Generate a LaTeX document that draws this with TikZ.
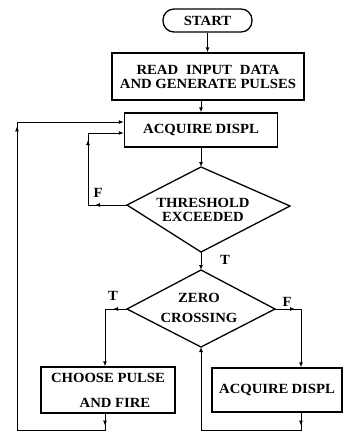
\documentclass[tikz,border=0pt]{standalone}
\usepackage{fontspec}
\setmainfont{Liberation Serif}[FakeStretch=1.05]
\usetikzlibrary{arrows.meta,decorations.markings}
\begin{document}
\begin{tikzpicture}[x=1pt,y=-1pt,
  txt/.style={font=\fontsize{14}{14}\selectfont\bfseries, align=center, inner sep=0pt},
  box/.style={draw, line width=1.3pt, txt},
  dia/.style={draw, line width=1.3pt, line join=miter},
  conn/.style={line width=1pt},
  arr/.style={conn, -{Latex[length=5pt,width=4pt]}},
  mid/.style={postaction={decorate, decoration={markings, mark=at position #1 with {\arrow{Latex[length=5pt,width=4pt]}}}}},
  lbl/.style={txt}]
\useasboundingbox (0,0) rectangle (344,432);

% nodes
\node[box, rounded corners=11pt, minimum width=89pt, minimum height=23pt] (start) at (207.5,20.5) {START};
\node[box, minimum width=192pt, minimum height=47pt] (read) at (208,76.5) {READ\hspace{8pt}INPUT\hspace{8pt}DATA\\AND GENERATE PULSES};
\node[box, minimum width=153pt, minimum height=34pt] (acq1) at (201,130) {ACQUIRE\hspace{3pt}DISPL};

% diamond 1
\coordinate (d1t) at (201,167);
\coordinate (d1r) at (290,206);
\coordinate (d1b) at (201,252);
\coordinate (d1l) at (127,205);
\draw[dia] (d1t) -- (d1r) -- (d1b) -- (d1l) -- cycle;
\node[txt] (d1) at (203,210) {THRESHOLD\\EXCEEDED};

% diamond 2
\coordinate (d2t) at (201,270);
\coordinate (d2r) at (275,309);
\coordinate (d2b) at (201,347);
\coordinate (d2l) at (127,309);
\draw[dia] (d2t) -- (d2r) -- (d2b) -- (d2l) -- cycle;
\node[txt, font=\fontsize{14}{20}\selectfont\bfseries] (d2) at (199,308) {ZERO\\CROSSING};

\node[box, font=\fontsize{14}{25}\selectfont\bfseries, minimum width=134pt, minimum height=46pt] (choose) at (108,390) {CHOOSE PULSE\\\hspace*{14pt}AND FIRE};
\node[box, minimum width=130pt, minimum height=44pt] (acq2) at (277,390) {ACQUIRE\hspace{3pt}DISPL};

% corner coordinates
\coordinate (fl) at (88,133);
\coordinate (ol) at (17,122);
\coordinate (tc) at (105,309);
\coordinate (fc) at (301,309);
\coordinate (bot) at (0,430);
\coordinate (ret) at (201,430);

% connectors
\draw[arr] (start.south) -- (start.south |- read.north);
\draw[arr] (acq1.north |- read.south) -- (acq1.north);
\draw[arr] (acq1.south) -- (d1t);
\draw[arr] (d1b) -- (d2t);
\draw[arr, mid=32pt, mid=104pt] (d1l) -- (d1l -| fl) -- (fl) -- (fl -| acq1.west);
\draw[arr, mid=14pt] (d2l) -- (tc) -- (tc |- choose.north);
\draw[arr, mid=20pt] (d2r) -- (fc) -- (fc |- acq2.north);
\draw[arr, mid=12pt, mid=408pt] (tc |- choose.south) -- (tc |- bot) -- (ol |- bot) -- (ol) -- (ol -| acq1.west);
\draw[arr, mid=13pt] (fc |- acq2.south) -- (fc |- bot) -- (ret) -- (d2b);

% labels
\node[lbl] (lf1) at (98,193) {F};
\node[lbl] (lt1) at (225,260) {T};
\node[lbl] (lt2) at (113,296) {T};
\node[lbl] (lf2) at (287,302) {F};
\end{tikzpicture}
\end{document}
